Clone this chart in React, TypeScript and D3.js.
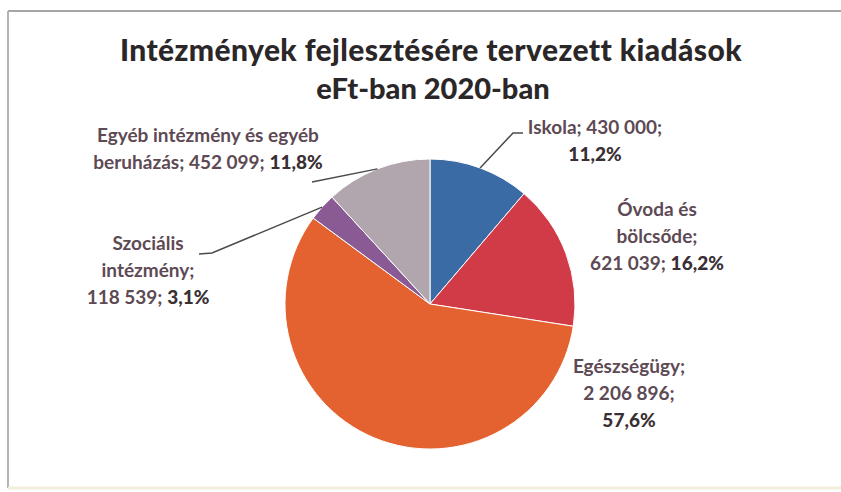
import React from "react";
import * as d3 from "d3";

const categories = ["Iskola", "Óvoda és bölcsőde", "Egészségügy", "Szociális intézmény", "Egyéb intézmény és egyéb beruházás"];
const values = [430000, 621039, 2206896, 118539, 452099];
const percents = ["11,2%", "16,2%", "57,6%", "3,1%", "11,8%"];
const valueLabels = ["430 000", "621 039", "2 206 896", "118 539", "452 099"];
const colors = ["#3b6ba5", "#d13b48", "#e3622f", "#8a5a95", "#b1a6ae"];
const titleLines = ["Intézmények fejlesztésére tervezett kiadások", "eFt-ban 2020-ban"];

const W = 841;
const H = 492;
const cx = 430;
const cy = 304;
const R = 145;

const FONT = "Lato, 'Open Sans', sans-serif";
const LABEL = "#5d4a54";
const DARK = "#3a2f35";

type Seg = { t: string; b?: boolean };
type LabelSpec = { x: number; y: number; lines: Seg[][]; leader: [number, number][] | null; idx: number };

export default function App() {
  const pie = d3.pie<number>().sort(null).value((d) => d)(values);
  const arc = d3.arc<d3.PieArcDatum<number>>().innerRadius(0).outerRadius(R);
  const mid = (i: number) => {
    const a = (pie[i].startAngle + pie[i].endAngle) / 2;
    return [cx + R * Math.sin(a), cy - R * Math.cos(a)] as [number, number];
  };

  const labels: LabelSpec[] = [
    {
      idx: 0, x: 595, y: 134,
      lines: [[{ t: "Iskola; " + valueLabels[0] + ";" }], [{ t: percents[0], b: true }]],
      leader: [[523, 133], [513, 133], mid(0)],
    },
    {
      idx: 1, x: 657, y: 216,
      lines: [[{ t: "Óvoda és" }], [{ t: "bölcsőde;" }], [{ t: valueLabels[1] + "; " }, { t: percents[1], b: true }]],
      leader: null,
    },
    {
      idx: 2, x: 629, y: 373,
      lines: [[{ t: "Egészségügy;" }], [{ t: valueLabels[2] + ";" }], [{ t: percents[2], b: true }]],
      leader: null,
    },
    {
      idx: 3, x: 148, y: 250,
      lines: [[{ t: "Szociális" }], [{ t: "intézmény;" }], [{ t: valueLabels[3] + "; " }, { t: percents[3], b: true }]],
      leader: [[199, 254], [212, 253], mid(3)],
    },
    {
      idx: 4, x: 208, y: 142,
      lines: [[{ t: "Egyéb intézmény és egyéb" }], [{ t: "beruházás; " + valueLabels[4] + "; " }, { t: percents[4], b: true }]],
      leader: [[312, 182], mid(4)],
    },
  ];

  const lh = 27;

  return (
    <svg width={W} height={H} style={{ position: "absolute", left: 0, top: 0, background: "#fff" }}>
      <rect x={0} y={0} width={W} height={H} fill="#fff" />
      <line x1={8} y1={11} x2={W} y2={11} stroke="#a9a4a6" strokeWidth={2} />
      <line x1={8} y1={11} x2={8} y2={488} stroke="#b5b2b3" strokeWidth={2} />
      <line x1={8} y1={488} x2={W} y2={488} stroke="#f3eedb" strokeWidth={3} />

      <g fontFamily={FONT} fontWeight={900} fill="#2b2729" textAnchor="middle">
        <text x={431} y={61} fontSize={30} letterSpacing={0.4}>{titleLines[0]}</text>
        <text x={433} y={99} fontSize={29}>{titleLines[1]}</text>
      </g>

      <g>
        {pie.map((p, i) => (
          <path key={categories[i]} d={arc(p) as string} transform={`translate(${cx},${cy})`} fill={colors[i]} stroke="#fff" strokeWidth={1} />
        ))}
      </g>

      {labels.map((l) =>
        l.leader ? (
          <polyline key={"ld" + l.idx} points={l.leader.map((p) => p.join(",")).join(" ")} fill="none" stroke="#4d4a4c" strokeWidth={1.5} />
        ) : null
      )}

      <g fontFamily={FONT} fontSize={19} textAnchor="middle" fill={LABEL} fontWeight={700}>
        {labels.map((l) =>
          l.lines.map((line, j) => (
            <text key={l.idx + "-" + j} x={l.x} y={l.y + j * lh}>
              {line.map((s, k) => (
                <tspan key={k} fontWeight={s.b ? 900 : 700} fill={s.b ? DARK : LABEL}>
                  {s.t}
                </tspan>
              ))}
            </text>
          ))
        )}
      </g>
    </svg>
  );
}
